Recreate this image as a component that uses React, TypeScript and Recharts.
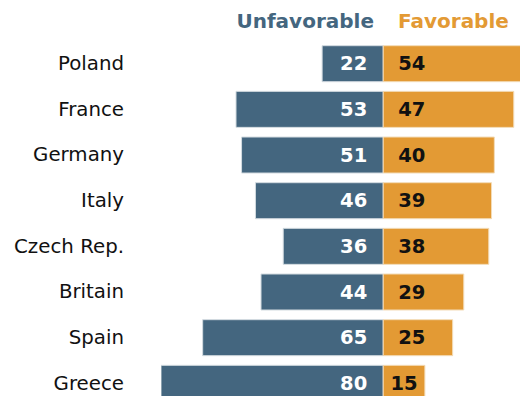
import { BarChart, Bar, XAxis, YAxis, LabelList } from "recharts";

const countries = ["Poland", "France", "Germany", "Italy", "Czech Rep.", "Britain", "Spain", "Greece"];
const unfavorable = [22, 53, 51, 46, 36, 44, 65, 80];
const favorable = [54, 47, 40, 39, 38, 29, 25, 15];

const data = countries.map((name, i) => ({
  name,
  unfav: -unfavorable[i],
  fav: favorable[i],
}));

const BLUE = "#44667f";
const ORANGE = "#e39a34";
const FONT = "'DejaVu Sans', Verdana, sans-serif";

const CountryTick = (props: any) => {
  const { y, payload } = props;
  return (
    <text x={124} y={y} textAnchor="end" dominantBaseline="central" fontSize={19.8} fontFamily={FONT} fill="#111">
      {payload.value}
    </text>
  );
};

const UnfavLabel = (props: any) => {
  const { x, y, width, height, value } = props;
  const right = Math.max(x, x + width);
  return (
    <text x={right - 16} y={y + height / 2} textAnchor="end" dominantBaseline="central" fontSize={19.5} fontWeight="bold" fontFamily={FONT} fill="#fff">
      {Math.abs(value)}
    </text>
  );
};

const FavLabel = (props: any) => {
  const { x, y, width, height, value } = props;
  const small = width < 50;
  return (
    <text
      x={small ? x + width / 2 : x + 15}
      y={y + height / 2}
      textAnchor={small ? "middle" : "start"}
      dominantBaseline="central"
      fontSize={19.5}
      fontWeight="bold"
      fontFamily={FONT}
      fill="#111"
    >
      {value}
    </text>
  );
};

export default function App() {
  return (
    <div style={{ position: "absolute", left: 0, top: 0, width: 520, height: 396, overflow: "hidden", background: "#fff", fontFamily: FONT }}>
      <div style={{ position: "absolute", right: 146, top: 8, fontSize: 20, fontWeight: "bold", color: BLUE, lineHeight: "26px" }}>
        Unfavorable
      </div>
      <div style={{ position: "absolute", left: 398, top: 8, fontSize: 20, fontWeight: "bold", color: ORANGE, lineHeight: "26px" }}>
        Favorable
      </div>
      <BarChart
        width={536}
        height={406}
        data={data}
        layout="vertical"
        stackOffset="sign"
        margin={{ top: 40.7, right: 0, bottom: 0, left: 0 }}
      >
        <XAxis type="number" domain={[-80, 55]} allowDataOverflow hide />
        <YAxis type="category" dataKey="name" width={161} axisLine={false} tickLine={false} tick={<CountryTick />} />
        <Bar dataKey="unfav" stackId="a" fill={BLUE} stroke="#d3dbe0" strokeWidth={1} barSize={36} isAnimationActive={false}>
          <LabelList dataKey="unfav" content={<UnfavLabel />} />
        </Bar>
        <Bar dataKey="fav" stackId="a" fill={ORANGE} stroke="#f3dcb8" strokeWidth={1} barSize={36} isAnimationActive={false}>
          <LabelList dataKey="fav" content={<FavLabel />} />
        </Bar>
      </BarChart>
    </div>
  );
}
